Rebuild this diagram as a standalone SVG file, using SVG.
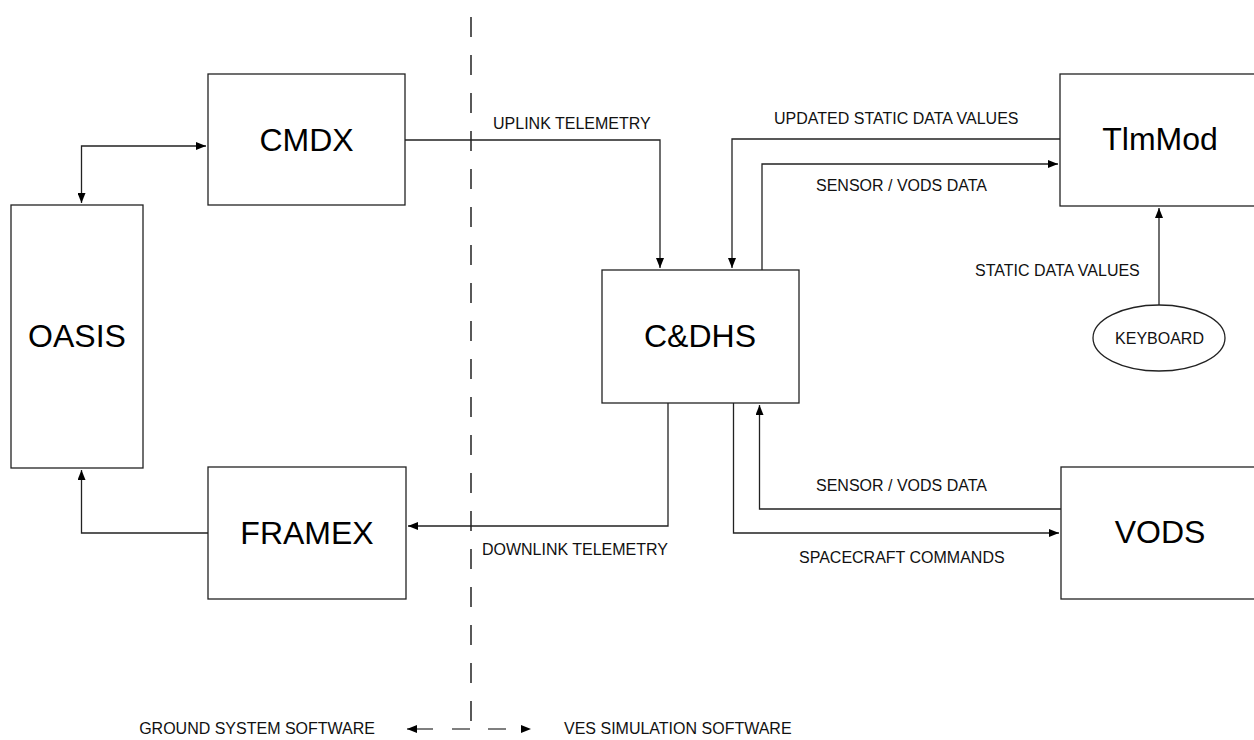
<svg xmlns="http://www.w3.org/2000/svg" width="1254" height="740" viewBox="0 0 1254 740">
<defs>
<marker id="arr" viewBox="0 0 10 8" refX="10" refY="4" markerWidth="10" markerHeight="8" markerUnits="userSpaceOnUse" orient="auto-start-reverse">
<path d="M0,0 L10,4 L0,8 Z" fill="#000"/>
</marker>
<style>
.box{fill:#fff;stroke:#222;stroke-width:1.3}
.big{font-family:"Liberation Sans",Arial,sans-serif;font-size:32px;fill:#000;text-anchor:middle}
.lbl{font-family:"Liberation Sans",Arial,sans-serif;font-size:16px;fill:#111}
.con{fill:none;stroke:#222;stroke-width:1.3}
</style>
</defs>
<rect width="1254" height="740" fill="#fff"/>

<g id="divider">
<line x1="471" y1="721" x2="471" y2="0" stroke="#000" stroke-width="1.3" stroke-dasharray="20 18"/>
</g>

<g id="connectors">
<path class="con" d="M81.5,203 V146 H206" marker-start="url(#arr)" marker-end="url(#arr)"/>
<path class="con" d="M405,140 H660 V268" marker-end="url(#arr)"/>
<path class="con" d="M1060,139 H732 V268" marker-end="url(#arr)"/>
<path class="con" d="M762,270 V164 H1058" marker-end="url(#arr)"/>
<path class="con" d="M1159,305 V208" marker-end="url(#arr)"/>
<path class="con" d="M668,403 V526 H408" marker-end="url(#arr)"/>
<path class="con" d="M208,533 H81.5 V470" marker-end="url(#arr)"/>
<path class="con" d="M1061,509 H759.5 V405" marker-end="url(#arr)"/>
<path class="con" d="M733.5,403 V533 H1059" marker-end="url(#arr)"/>
</g>

<g id="labels">
<text class="lbl" x="493" y="129">UPLINK TELEMETRY</text>
<text class="lbl" x="774" y="124">UPDATED STATIC DATA VALUES</text>
<text class="lbl" x="816" y="191">SENSOR / VODS DATA</text>
<text class="lbl" x="975" y="276">STATIC DATA VALUES</text>
<text class="lbl" x="816" y="491">SENSOR / VODS DATA</text>
<text class="lbl" x="799" y="563">SPACECRAFT COMMANDS</text>
<text class="lbl" x="668" y="555" text-anchor="end">DOWNLINK TELEMETRY</text>
</g>

<g id="oasis">
<rect class="box" x="11" y="205" width="132" height="263"/>
<text class="big" x="77" y="347">OASIS</text>
</g>
<g id="cmdx">
<rect class="box" x="208" y="74" width="197" height="131"/>
<text class="big" x="306.5" y="151">CMDX</text>
</g>
<g id="framex">
<rect class="box" x="208" y="467" width="198" height="132"/>
<text class="big" x="307" y="544">FRAMEX</text>
</g>
<g id="cdhs">
<rect class="box" x="602" y="270" width="197" height="133"/>
<text class="big" x="700" y="347">C&amp;DHS</text>
</g>
<g id="tlmmod">
<rect class="box" x="1060" y="74" width="210" height="132"/>
<text class="big" x="1160" y="150">TlmMod</text>
</g>
<g id="vods">
<rect class="box" x="1061" y="467" width="210" height="132"/>
<text class="big" x="1160" y="543">VODS</text>
</g>
<g id="keyboard">
<ellipse class="box" cx="1159" cy="338" rx="66" ry="33"/>
<text class="lbl" x="1159.5" y="344" text-anchor="middle">KEYBOARD</text>
</g>

<g id="legend">
<line x1="407" y1="729" x2="531" y2="729" stroke="#555" stroke-width="1.5" stroke-dasharray="26 19 18 18 18 40" marker-start="url(#arr)" marker-end="url(#arr)"/>
<text class="lbl" x="375" y="734" text-anchor="end">GROUND SYSTEM SOFTWARE</text>
<text class="lbl" x="564" y="734">VES SIMULATION SOFTWARE</text>
</g>
</svg>
